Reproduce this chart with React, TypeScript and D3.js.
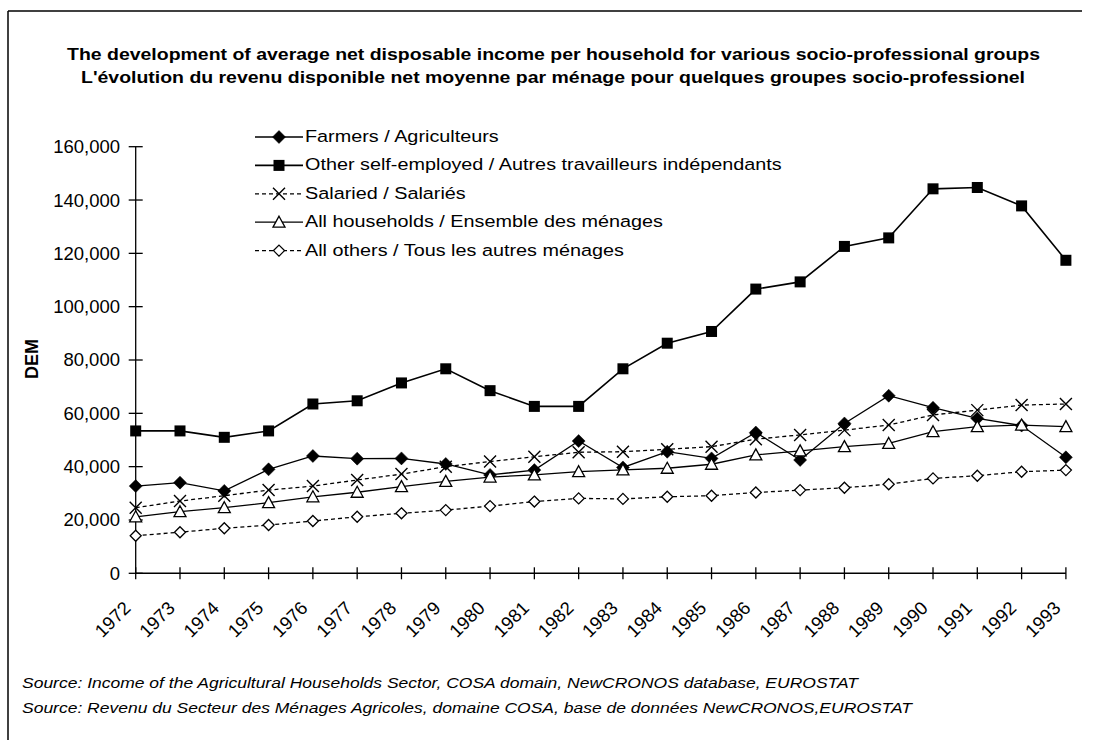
import React, { useEffect } from "react";
import * as d3 from "d3";

const years = ["1972","1973","1974","1975","1976","1977","1978","1979","1980","1981","1982","1983","1984","1985","1986","1987","1988","1989","1990","1991","1992","1993"];
const farmers = [32700, 34000, 30900, 39000, 44000, 43000, 43100, 41000, 36900, 38700, 49600, 39700, 45600, 43100, 52800, 42500, 56200, 66600, 62100, 58100, 55400, 43500];
const otherSelfEmployed = [53400, 53400, 51000, 53400, 63500, 64700, 71400, 76700, 68500, 62600, 62600, 76700, 86300, 90700, 106600, 109300, 122600, 125800, 144200, 144700, 137800, 117400];
const salaried = [24600, 27100, 29100, 31200, 32700, 35000, 37200, 40000, 41900, 43700, 45400, 45600, 46500, 47500, 50300, 51900, 53700, 55600, 59400, 61200, 63100, 63500];
const allHouseholds = [21200, 23100, 24600, 26500, 28700, 30400, 32500, 34500, 36100, 36900, 38100, 38800, 39400, 40900, 44400, 45900, 47500, 48700, 53100, 55000, 55600, 55000];
const allOthers = [14100, 15400, 16900, 18100, 19600, 21200, 22500, 23700, 25200, 26900, 28100, 27900, 28700, 29100, 30300, 31200, 32100, 33400, 35600, 36600, 38100, 38700];
const yTicks = [0, 20000, 40000, 60000, 80000, 100000, 120000, 140000, 160000];
const seriesNames = [
  "Farmers / Agriculteurs",
  "Other self-employed / Autres travailleurs indépendants",
  "Salaried / Salariés",
  "All households / Ensemble des ménages",
  "All others / Tous les autres ménages",
];
const titleLines = [
  "The development of average net disposable income per household for various socio-professional groups",
  "L'évolution du revenu disponible net moyenne par ménage pour quelques groupes socio-professionel",
];
const sourceLines = [
  "Source: Income of the Agricultural Households Sector, COSA domain, NewCRONOS database, EUROSTAT",
  "Source: Revenu du Secteur des Ménages Agricoles, domaine COSA, base de données NewCRONOS,EUROSTAT",
];

const FONT = "'Liberation Sans', Arial, Helvetica, sans-serif";

type MarkerKind = "diamond" | "square" | "x" | "triangle" | "openDiamond";

const series: { name: string; values: number[]; dashed: boolean; marker: MarkerKind }[] = [
  { name: seriesNames[0], values: farmers, dashed: false, marker: "diamond" },
  { name: seriesNames[1], values: otherSelfEmployed, dashed: false, marker: "square" },
  { name: seriesNames[2], values: salaried, dashed: true, marker: "x" },
  { name: seriesNames[3], values: allHouseholds, dashed: false, marker: "triangle" },
  { name: seriesNames[4], values: allOthers, dashed: true, marker: "openDiamond" },
];

function Marker({ kind, x, y }: { kind: MarkerKind; x: number; y: number }) {
  const t = `translate(${x},${y})`;
  switch (kind) {
    case "diamond":
      return <path transform={t} d="M0,-6.5L6.5,0L0,6.5L-6.5,0Z" fill="#000" stroke="#000" strokeWidth={0.5} />;
    case "square":
      return <rect transform={t} x={-5.5} y={-5.5} width={11} height={11} fill="#000" />;
    case "x":
      return (
        <path transform={t} d="M-6,-6L6,6M-6,6L6,-6" stroke="#000" strokeWidth={1.4} fill="none" />
      );
    case "triangle":
      return <path transform={t} d="M0,-6L6,5L-6,5Z" fill="#fff" stroke="#000" strokeWidth={1.3} />;
    case "openDiamond":
      return <path transform={t} d="M0,-5.5L5.5,0L0,5.5L-5.5,0Z" fill="#fff" stroke="#000" strokeWidth={1.3} />;
  }
}

export default function App() {
  useEffect(() => {
    document.body.style.margin = "0";
  }, []);

  const W = 1096;
  const H = 740;
  const x = d3.scalePoint<string>().domain(years).range([135.7, 1065.9]);
  const y = d3.scaleLinear().domain([0, 160000]).range([573.3, 146.7]);
  const fmt = d3.format(",");
  const line = d3
    .line<number>()
    .x((_, i) => x(years[i]) as number)
    .y((d) => y(d));

  const axisY = y(0);
  const xLeft = x(years[0]) as number;
  const xRight = x(years[years.length - 1]) as number;

  const legendX0 = 255;
  const legendX1 = 303;
  const legendTextX = 305;
  const legendBase0 = 142;
  const legendStep = 28.4;

  return (
    <svg
      width={W}
      height={H}
      style={{ position: "absolute", left: 0, top: 0, background: "#fff" }}
      fontFamily={FONT}
    >
      <rect x={0} y={0} width={W} height={H} fill="#fff" />
      {/* frame */}
      <line x1={8} y1={11} x2={1082} y2={11} stroke="#000" strokeWidth={1.5} />
      <line x1={8} y1={11} x2={8} y2={740} stroke="#000" strokeWidth={1.5} />

      {/* title */}
      {titleLines.map((t, i) => (
        <text
          key={i}
          x={i === 0 ? 67 : 81}
          y={i === 0 ? 60 : 83}
          fontSize={17}
          fontWeight="bold"
          textLength={i === 0 ? 973 : 944}
          lengthAdjust="spacingAndGlyphs"
          fill="#000"
        >
          {t}
        </text>
      ))}

      {/* y axis */}
      <line x1={xLeft} y1={y(160000)} x2={xLeft} y2={axisY} stroke="#000" strokeWidth={1.3} />
      {yTicks.map((v) => (
        <g key={v}>
          <line x1={xLeft - 7} x2={xLeft + 7} y1={y(v)} y2={y(v)} stroke="#000" strokeWidth={1.3} />
          <text x={120} y={y(v)} dy="0.35em" textAnchor="end" fontSize={18.5} fill="#000">
            {fmt(v)}
          </text>
        </g>
      ))}
      <text
        transform={`translate(32,${359}) rotate(-90)`}
        textAnchor="middle"
        dy="0.35em"
        fontSize={18}
        fontWeight="bold"
        fill="#000"
      >
        DEM
      </text>

      {/* x axis */}
      <line x1={xLeft} y1={axisY} x2={xRight} y2={axisY} stroke="#000" strokeWidth={1.5} />
      {years.map((yr) => {
        const px = x(yr) as number;
        return (
          <g key={yr}>
            <line x1={px} x2={px} y1={axisY - 6} y2={axisY + 6} stroke="#000" strokeWidth={1.3} />
            <text
              transform={`translate(${px - 4},${axisY + 36}) rotate(-45)`}
              textAnchor="end"
              fontSize={18.5}
              fill="#000"
            >
              {yr}
            </text>
          </g>
        );
      })}

      {/* series */}
      {series.map((s, si) => (
        <g key={si}>
          <path
            d={line(s.values) || ""}
            fill="none"
            stroke="#000"
            strokeWidth={si === 1 ? 1.6 : 1.3}
            strokeDasharray={s.dashed ? "4,3" : undefined}
          />
          {s.values.map((v, i) => (
            <Marker key={i} kind={s.marker} x={x(years[i]) as number} y={y(v)} />
          ))}
        </g>
      ))}

      {/* legend */}
      {series.map((s, si) => {
        const base = legendBase0 + si * legendStep;
        const cy = base - 5;
        return (
          <g key={si}>
            <line
              x1={legendX0}
              x2={legendX1}
              y1={cy}
              y2={cy}
              stroke="#000"
              strokeWidth={si === 1 ? 1.6 : 1.3}
              strokeDasharray={s.dashed ? "4,3" : undefined}
            />
            <Marker kind={s.marker} x={(legendX0 + legendX1) / 2} y={cy} />
            <text
              transform={`translate(${legendTextX},${base}) scale(1.166,1)`}
              fontSize={17}
              fill="#000"
            >
              {s.name}
            </text>
          </g>
        );
      })}

      {/* source */}
      {sourceLines.map((t, i) => (
        <text
          key={i}
          x={22}
          y={i === 0 ? 688 : 713}
          fontSize={15.5}
          fontStyle="italic"
          textLength={i === 0 ? 836 : 890}
          lengthAdjust="spacingAndGlyphs"
          fill="#000"
        >
          {t}
        </text>
      ))}
    </svg>
  );
}
